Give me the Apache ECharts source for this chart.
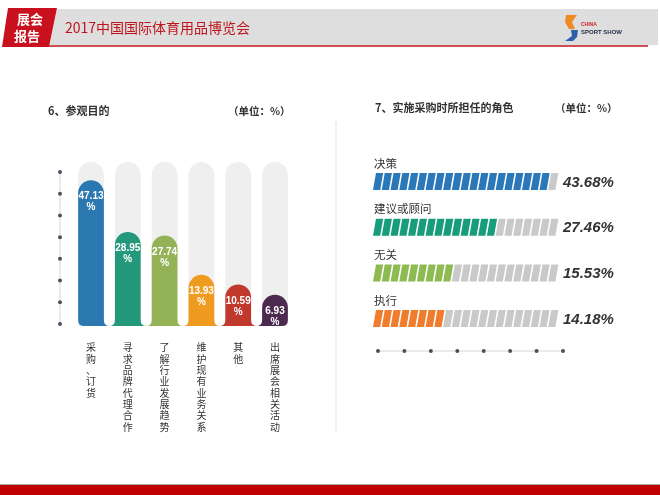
<!DOCTYPE html>
<html>
<head>
<meta charset="utf-8">
<title>2017中国国际体育用品博览会</title>
<script src="https://cdn.jsdelivr.net/npm/echarts@6/dist/echarts.min.js"></script>
<style>
html,body{margin:0;padding:0;background:#fff;}
#main{width:660px;height:495px;}
</style>
</head>
<body>
<div id="main"></div>
<script>
// 6、参观目的
const purposeNames=['采购、订货','寻求品牌代理合作','了解行业发展趋势','维护现有业务关系','其他','出席展会相关活动'];
const purposeValues=[47.13,28.95,27.74,13.93,10.59,6.93];
const purposeColors=['#2b78b1','#23987a','#94b356','#ee9b1f','#c0392c','#4c2a50'];
const purposeMin=-4;
const purposeMax=53.5;

// 7、实施采购时所担任的角色
const roleNames=['决策','建议或顾问','无关','执行'];
const roleValues=[43.68,27.46,15.53,14.18];
const roleColors=['#2a78b8','#179c7c','#8dbb52','#f07c2e'];
const roleMin=-7.8;
const roleMax=46.8;
const roleSegments=21;

// 装饰用的刻度点
const dotTicks=[0,1,2,3,4,5,6,7];

const FONT='"Noto Sans CJK SC","Liberation Sans",sans-serif';
const NUM_FONT='"Liberation Sans",Arial,sans-serif';

class EchartsMain{
    constructor(elementId){
        if(elementId!==undefined){
            this.initEcharts(elementId);
        }
    }
    getElement(){
        return document.getElementById(this.elementId);
    }
    getChart(){
        return echarts.getInstanceByDom(this.getElement());
    }
    getOption(){}
    setOption(option){
        option && this.getChart().setOption(option);
    }
    initEcharts(elementId){
        this.elementId=elementId;
        if(!this.getChart()){
            echarts.init(this.getElement());
        }
        this.setOption(this.getOption());
    }
}

//左图：圆头柱子
function renderPurpose(params,api){
    const i=api.value(0);
    const base=api.coord([i,purposeMin]);
    const top=api.coord([i,api.value(1)]);
    const bgTop=api.coord([i,purposeMax]);
    const w=api.size([1,0])[0]*0.7;
    const r=w/2,cx=base[0],L=cx-r,R=cx+r,yb=base[1],yt=top[1],f=6;
    const last=purposeValues.length-1;
    let d='M'+L+' '+(yt+r)+' A'+r+' '+r+' 0 0 1 '+R+' '+(yt+r)+' L'+R+' '+(yb-f);
    d+=i<last?' Q'+R+' '+yb+' '+(R+f)+' '+yb:' Q'+R+' '+yb+' '+(R-f)+' '+yb;
    d+=i>0?' L'+(L-f)+' '+yb:' L'+(L+f)+' '+yb;
    d+=' Q'+L+' '+yb+' '+L+' '+(yb-f)+' Z';
    return {type:'group',children:[
        {type:'rect',shape:{x:L,y:bgTop[1],width:w,height:yb-bgTop[1],r:[r,r,0,0]},style:{fill:'#efefef'}},
        {type:'path',shape:{pathData:d},style:{fill:purposeColors[i]}},
        {type:'text',style:{text:api.value(1).toFixed(2)+'\n%',x:cx,y:yt+11,align:'center',verticalAlign:'top',
            fill:'#fff',font:'bold 10px '+NUM_FONT,lineHeight:11}}
    ]};
}

//右图：斜格进度条
function renderRole(params,api){
    const i=api.value(1);
    const start=api.coord([roleMin,i]);
    const end=api.coord([roleMax,i]);
    const pos=api.coord([api.value(0),i]);
    const step=(end[0]-start[0])/roleSegments;
    const filled=Math.round((pos[0]-start[0])/step);
    const h=17,s=3,gap=1.6,cy=start[1]+9.5;
    const w=step-gap;
    const children=[];
    for(let k=0;k<roleSegments;k++){
        const x0=start[0]+k*step;
        children.push({type:'polygon',shape:{points:[[x0,cy+h/2],[x0+s,cy-h/2],[x0+s+w,cy-h/2],[x0+w,cy+h/2]]},
            style:{fill:k<filled?roleColors[i]:'#c9c9c9'}});
    }
    children.push({type:'text',style:{text:roleNames[i],x:start[0]+1,y:cy-h/2-4,align:'left',verticalAlign:'bottom',
        fill:'#333',font:'11.5px '+FONT}});
    children.push({type:'text',style:{text:api.value(0).toFixed(2)+'%',x:end[0]+6,y:cy+1,align:'left',verticalAlign:'middle',
        fill:'#333',font:'italic bold 15px '+NUM_FONT}});
    return {type:'group',children:children};
}

function txt(text,x,y,font,fill,align){
    return {type:'text',style:{text:text,x:x,y:y,font:font,fill:fill,
        align:align||'left',textAlign:align||'left',verticalAlign:'middle',textVerticalAlign:'middle'}};
}

class ExpoReport extends EchartsMain{
    getOption(){
        return {
            animation:false,
            backgroundColor:'#fff',
            textStyle:{fontFamily:FONT},
            grid:[
                {left:72.6,top:162,width:220.8,height:164},
                {left:373,top:149.2,width:184,height:182.7},
                {left:50,top:172,width:20,height:152},
                {left:378,top:341,width:185,height:20}
            ],
            xAxis:[
                {gridIndex:0,type:'category',data:purposeNames,axisLine:{show:false},axisTick:{show:false},
                    axisLabel:{interval:0,formatter:v=>v.split('').join('\n'),fontSize:10,lineHeight:11.3,
                        color:'#333',margin:16,verticalAlign:'top'}},
                {gridIndex:1,type:'value',min:roleMin,max:roleMax,show:false},
                {gridIndex:2,type:'value',min:-1,max:1,show:false},
                {gridIndex:3,type:'value',min:0,max:7,show:false}
            ],
            yAxis:[
                {gridIndex:0,type:'value',min:purposeMin,max:purposeMax,show:false},
                {gridIndex:1,type:'category',data:roleNames,inverse:true,show:false},
                {gridIndex:2,type:'value',min:0,max:7,inverse:true,show:false},
                {gridIndex:3,type:'value',min:-1,max:1,show:false}
            ],
            graphic:[
                // 页眉
                {type:'polygon',shape:{points:[[57,9],[658,9],[658,45],[50,45]]},style:{fill:'#dedede'}},
                {type:'line',shape:{x1:48,y1:46,x2:648,y2:46},style:{stroke:'#c0141c',lineWidth:1.5}},
                {type:'polygon',shape:{points:[[8,8],[57,8],[49,47],[2,47]]},style:{fill:'#c8101e'}},
                txt('展会',30,19,'bold 13px '+FONT,'#fff','center'),
                txt('报告',27,36,'bold 13px '+FONT,'#fff','center'),
                txt('2017中国国际体育用品博览会',65,28,'14px '+FONT,'#c0141c'),
                {type:'polygon',shape:{points:[[566,15],[577,15],[572,22],[575,29],[569,29],[565,22]]},style:{fill:'#f08a24'}},
                {type:'polygon',shape:{points:[[571,30],[578,30],[577,37],[573,41],[565,41],[572,36]]},style:{fill:'#2b5fa8'}},
                txt('CHINA',581,25,'bold 5px '+NUM_FONT,'#d0202a'),
                txt('SPORT SHOW',581,32,'bold 6px '+NUM_FONT,'#1f2a44'),
                // 页脚
                {type:'rect',shape:{x:0,y:485,width:660,height:10},style:{fill:'#c00000'}},
                {type:'line',shape:{x1:0,y1:484.5,x2:660,y2:484.5},style:{stroke:'#aaa',lineWidth:1}},
                // 分隔线
                {type:'line',shape:{x1:336,y1:122,x2:336,y2:432},style:{stroke:'#c8c8c8',lineWidth:1,lineDash:[1,1]}},
                // 标题
                txt('6、参观目的',48,111,'bold 11px '+FONT,'#333'),
                txt('（单位：%）',228,111,'bold 10.5px '+FONT,'#333'),
                txt('7、实施采购时所担任的角色',375,108,'bold 11px '+FONT,'#333'),
                txt('（单位：%）',555,108,'bold 10.5px '+FONT,'#333')
            ],
            series:[
                {type:'custom',xAxisIndex:0,yAxisIndex:0,data:purposeValues.map((v,i)=>[i,v]),renderItem:renderPurpose,silent:true},
                {type:'custom',xAxisIndex:1,yAxisIndex:1,data:roleValues.map((v,i)=>[v,i]),renderItem:renderRole,silent:true},
                {type:'line',xAxisIndex:2,yAxisIndex:2,data:dotTicks.map(t=>[0,t]),symbol:'circle',symbolSize:4,
                    itemStyle:{color:'#4a5160'},lineStyle:{color:'#d5d5d5',width:1},silent:true},
                {type:'line',xAxisIndex:3,yAxisIndex:3,data:dotTicks.map(t=>[t,0]),symbol:'circle',symbolSize:4,
                    itemStyle:{color:'#4a5160'},lineStyle:{color:'#d5d5d5',width:1},silent:true}
            ]
        };
    }
}

new ExpoReport('main');
</script>
</body>
</html>
